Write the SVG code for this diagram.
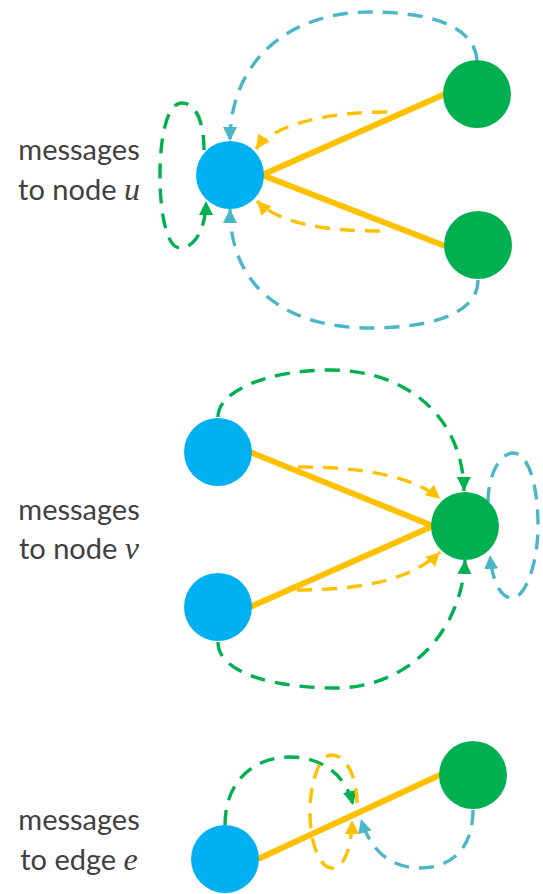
<svg xmlns="http://www.w3.org/2000/svg" width="543" height="894" viewBox="0 0 543 894">
  <style>
    .label { font-family: Lato, "Open Sans", sans-serif; font-size: 29px; fill: #404040; }
    .math { font-family: "Liberation Serif", serif; font-style: italic; font-size: 32px; }
    .edge { stroke: #FFC000; stroke-width: 6; fill: none; }
    .msg { stroke-width: 3.4; fill: none; stroke-dasharray: 15 10; }
    .cyan { stroke: #4BB6C8; }
    .green { stroke: #00B050; }
    .yellow { stroke: #FFC000; }
    .blue-node { fill: #00B0F0; }
    .green-node { fill: #00B050; }
  </style>
  <defs>
    <marker id="arrow-cyan" markerUnits="userSpaceOnUse" markerWidth="15" markerHeight="15" refX="14" refY="7" orient="auto">
      <path d="M0,0 L14,7 L0,14 z" fill="#4BB6C8"/>
    </marker>
    <marker id="arrow-green" markerUnits="userSpaceOnUse" markerWidth="15" markerHeight="15" refX="14" refY="7" orient="auto">
      <path d="M0,0 L14,7 L0,14 z" fill="#00B050"/>
    </marker>
    <marker id="arrow-yellow" markerUnits="userSpaceOnUse" markerWidth="15" markerHeight="15" refX="14" refY="7" orient="auto">
      <path d="M0,0 L14,7 L0,14 z" fill="#FFC000"/>
    </marker>
  </defs>

  <!-- labels -->
  <g id="label-u">
    <text class="label" x="79" y="160" text-anchor="middle">messages</text>
    <text class="label" x="79" y="200" text-anchor="middle">to node <tspan class="math">u</tspan></text>
  </g>
  <g id="label-v">
    <text class="label" x="79" y="520" text-anchor="middle">messages</text>
    <text class="label" x="79" y="559" text-anchor="middle">to node <tspan class="math">v</tspan></text>
  </g>
  <g id="label-e">
    <text class="label" x="79" y="830" text-anchor="middle">messages</text>
    <text class="label" x="79" y="870" text-anchor="middle">to edge <tspan class="math">e</tspan></text>
  </g>

  <!-- graph edges (solid) -->
  <g id="edges">
    <line class="edge" x1="262" y1="175" x2="445" y2="94"/>
    <line class="edge" x1="262" y1="175" x2="445" y2="246"/>
    <line class="edge" x1="250" y1="452" x2="433" y2="526"/>
    <line class="edge" x1="250" y1="607" x2="433" y2="526"/>
    <line class="edge" x1="258" y1="859" x2="442" y2="774"/>
  </g>

  <!-- message connectors (dashed) -->
  <g id="connectors">
    <!-- to node u -->
    <path class="msg cyan" d="M477,60 C474,22 420,12 370,12 C290,12 230,60 230,141" marker-end="url(#arrow-cyan)"/>
    <path class="msg cyan" d="M478,280 C478,318 420,328 370,328 C290,328 230,290 230,209" marker-end="url(#arrow-cyan)"/>
    <path class="msg green" d="M204,150 C204,120 195,103 182,103 C166,103 160,140 160,175 C160,215 167,248 180,248 C195,248 206,228 206,201" marker-end="url(#arrow-green)"/>
    <path class="msg yellow" d="M387,112 C335,112 275,122 256,149" marker-end="url(#arrow-yellow)"/>
    <path class="msg yellow" d="M380,231 C330,231 280,225 257,201" marker-end="url(#arrow-yellow)"/>

    <!-- to node v -->
    <path class="msg green" d="M218,417 C218,390 270,370 330,370 C410,370 463,420 464,491" marker-end="url(#arrow-green)"/>
    <path class="msg green" d="M218,642 C218,675 280,688 335,688 C410,688 462,630 465,560" marker-end="url(#arrow-green)"/>
    <path class="msg yellow" d="M298,467 C360,467 412,475 440,499" marker-end="url(#arrow-yellow)"/>
    <path class="msg yellow" d="M297,590 C360,590 412,580 440,552" marker-end="url(#arrow-yellow)"/>
    <path class="msg cyan" d="M488,502 C488,475 500,453 513,453 C530,453 538,490 538,525 C538,565 525,598 512,598 C500,598 492,580 490,555" marker-end="url(#arrow-cyan)"/>

    <!-- to edge e -->
    <path class="msg green" d="M225,825 C225,780 255,757 290,757 C322,757 346,775 353,805" marker-end="url(#arrow-green)"/>
    <path class="msg cyan" d="M473,810 C473,850 450,868 420,868 C390,868 370,850 361,819" marker-end="url(#arrow-cyan)"/>
    <path class="msg yellow" d="M357,803 C357,775 345,755 332,755 C318,755 310,785 310,812 C310,845 320,868 332,868 C345,868 352,845 352,820" marker-end="url(#arrow-yellow)"/>
  </g>

  <!-- nodes -->
  <g id="node-u"><circle class="blue-node" cx="230" cy="175" r="34"/></g>
  <g id="node-u-nb1"><circle class="green-node" cx="477" cy="94" r="34"/></g>
  <g id="node-u-nb2"><circle class="green-node" cx="478" cy="245" r="34"/></g>

  <g id="node-v-nb1"><circle class="blue-node" cx="218" cy="452" r="34"/></g>
  <g id="node-v-nb2"><circle class="blue-node" cx="218" cy="607" r="34"/></g>
  <g id="node-v"><circle class="green-node" cx="465" cy="526" r="34"/></g>

  <g id="node-e-src"><circle class="blue-node" cx="225" cy="859" r="34"/></g>
  <g id="node-e-dst"><circle class="green-node" cx="473" cy="775" r="34"/></g>
</svg>
